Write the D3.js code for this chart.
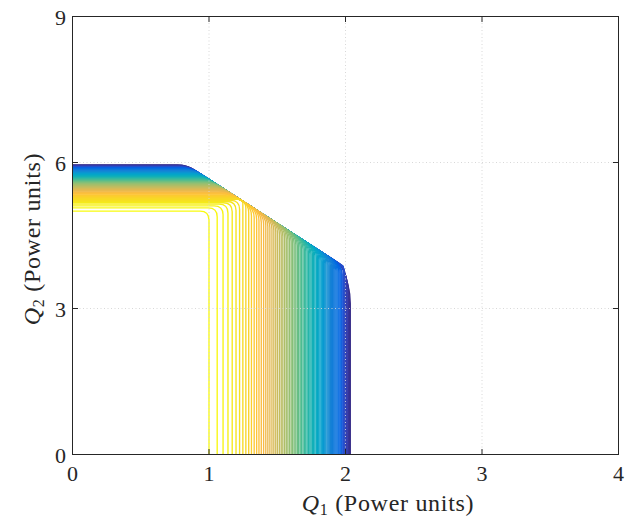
<!DOCTYPE html>
<html><head><meta charset="utf-8">
<script src="https://cdn.jsdelivr.net/npm/d3@7"></script>
<style>html,body{margin:0;padding:0;background:#fff;}svg{display:block;}</style>
</head><body>
<svg id="c" width="639" height="521"></svg>
<script>
// ---- data ----
// curves listed from innermost (yellow) to outermost (blue)
const qRight = [1.000,1.060,1.103,1.139,1.170,1.198,1.224,1.248,1.270,1.291,
  1.311,1.331,1.349,1.366,1.383,1.400,1.416,1.431,1.446,1.461,
  1.475,1.489,1.502,1.516,1.529,1.541,1.554,1.566,1.578,1.590,
  1.602,1.613,1.624,1.636,1.647,1.657,1.668,1.678,1.689,1.699,
  1.709,1.719,1.729,1.739,1.748,1.758,1.767,1.776,1.786,1.795,
  1.804,1.813,1.822,1.830,1.839,1.848,1.856,1.865,1.873,1.881,
  1.890,1.898,1.906,1.914,1.922,1.930,1.938,1.946,1.953,1.961,
  1.969,1.976,1.984,1.991,1.999,2.006,2.013,2.021,2.028,2.035];
const qTop = [5.000,5.067,5.110,5.144,5.173,5.199,5.223,5.245,5.265,5.284,
  5.303,5.320,5.336,5.352,5.368,5.382,5.397,5.411,5.424,5.437,
  5.450,5.462,5.475,5.486,5.498,5.510,5.521,5.532,5.542,5.553,
  5.563,5.574,5.584,5.594,5.603,5.613,5.623,5.632,5.641,5.650,
  5.659,5.668,5.677,5.686,5.694,5.703,5.711,5.720,5.728,5.736,
  5.744,5.752,5.760,5.768,5.775,5.783,5.791,5.798,5.806,5.813,
  5.820,5.828,5.835,5.842,5.849,5.856,5.863,5.870,5.877,5.884,
  5.891,5.898,5.904,5.911,5.918,5.924,5.931,5.937,5.944,5.950];
// limit lines a*Q1 + Q2 <= c shared by all curves
const limitA = [1.81, 11.0];
const limitC = [7.46, 25.68];
const xTicks = [0,1,2,3,4];
const yTicks = [0,3,6,9];
// parula colormap anchor colours (MATLAB)
const parulaStops = [[0.2081,0.1663,0.5292],[0.2123,0.2138,0.6270],[0.1959,0.2645,0.7279],[0.1253,0.3242,0.8303],
  [0.0117,0.3875,0.8820],[0.0165,0.4266,0.8786],[0.0498,0.4586,0.8641],[0.0723,0.4887,0.8467],
  [0.0793,0.5200,0.8312],[0.0641,0.5570,0.8240],[0.0343,0.5966,0.8199],[0.0239,0.6287,0.8038],
  [0.0228,0.6535,0.7768],[0.0384,0.6743,0.7436],[0.0843,0.6928,0.7062],[0.1453,0.7098,0.6646],
  [0.2178,0.7250,0.6193],[0.3022,0.7376,0.5712],[0.3953,0.7459,0.5244],[0.4871,0.7491,0.4840],
  [0.5709,0.7485,0.4494],[0.6473,0.7456,0.4188],[0.7184,0.7411,0.3905],[0.7858,0.7356,0.3633],
  [0.8507,0.7299,0.3360],[0.9139,0.7258,0.3063],[0.9739,0.7314,0.2666],[0.9990,0.7653,0.2164],
  [0.9880,0.8066,0.1794],[0.9697,0.8481,0.1475],[0.9589,0.8949,0.1132],[0.9661,0.9514,0.0755],
  [0.9763,0.9831,0.0538]];

// ---- layout ----
const svg = d3.select("#c");
const x = d3.scaleLinear().domain([0,4]).range([72.5,618.5]);
const y = d3.scaleLinear().domain([0,9]).range([454.5,16.5]);
const cmap = d3.piecewise(d3.interpolateRgb, parulaStops.map(c=>d3.rgb(c[0]*255,c[1]*255,c[2]*255)));

function clip(poly, a, c){ // keep a*x + y <= c
  const out=[]; const f=p=>a*p[0]+p[1]-c;
  for(let i=0;i<poly.length;i++){
    const P=poly[i], Q=poly[(i+1)%poly.length];
    const fp=f(P), fq=f(Q);
    if(fp<=0) out.push(P);
    if((fp<0&&fq>0)||(fp>0&&fq<0)){
      const t=fp/(fp-fq); out.push([P[0]+t*(Q[0]-P[0]), P[1]+t*(Q[1]-P[1])]);
    }
  }
  return out;
}
function roundedPath(pts, r){
  let d = `M${pts[0][0]},${pts[0][1]}`;
  for(let i=1;i<pts.length-1;i++){
    const A=pts[i-1],P=pts[i],B=pts[i+1];
    const la=Math.hypot(A[0]-P[0],A[1]-P[1]), lb=Math.hypot(B[0]-P[0],B[1]-P[1]);
    const dd=Math.min(r, la/2, lb/2);
    const p1=[P[0]+(A[0]-P[0])*dd/la, P[1]+(A[1]-P[1])*dd/la];
    const p2=[P[0]+(B[0]-P[0])*dd/lb, P[1]+(B[1]-P[1])*dd/lb];
    d += `L${p1[0]},${p1[1]}Q${P[0]},${P[1]} ${p2[0]},${p2[1]}`;
  }
  const L=pts[pts.length-1]; d+=`L${L[0]},${L[1]}`;
  return d;
}

const N = qRight.length;
const order = d3.range(N).reverse(); // outer (blue) drawn first
const curves = svg.append("g");
order.forEach((k, j) => {
  let poly = [[0,0],[0,qTop[k]],[qRight[k],qTop[k]],[qRight[k],0]];
  limitA.forEach((a,i)=>{ poly = clip(poly, a, limitC[i]); });
  const pts = poly.slice(1).map(p=>[x(p[0]), y(p[1])]);
  curves.append("path")
    .attr("d", roundedPath(pts, 9))
    .attr("fill","none")
    .attr("stroke", cmap(j/(N-1)))
    .attr("stroke-width", 1.35);
});

// grid (on top, light dotted)
const grid = svg.append("g").attr("stroke","#d4d4d4").attr("stroke-width",0.9).attr("stroke-dasharray","1,2.5");
xTicks.slice(1,-1).forEach(v=>grid.append("line").attr("x1",x(v)).attr("x2",x(v)).attr("y1",y(0)).attr("y2",y(9)));
yTicks.slice(1,-1).forEach(v=>grid.append("line").attr("x1",x(0)).attr("x2",x(4)).attr("y1",y(v)).attr("y2",y(v)));

// axes box with inward ticks
const ax = svg.append("g").attr("stroke","#262626").attr("stroke-width",1).attr("fill","none");
ax.append("rect").attr("x",x(0)).attr("y",y(9)).attr("width",x(4)-x(0)).attr("height",y(0)-y(9));
const tl=5.5;
xTicks.forEach(v=>{
  ax.append("line").attr("x1",x(v)).attr("x2",x(v)).attr("y1",y(0)).attr("y2",y(0)-tl);
  ax.append("line").attr("x1",x(v)).attr("x2",x(v)).attr("y1",y(9)).attr("y2",y(9)+tl);
});
yTicks.forEach(v=>{
  ax.append("line").attr("x1",x(0)).attr("x2",x(0)+tl).attr("y1",y(v)).attr("y2",y(v));
  ax.append("line").attr("x1",x(4)).attr("x2",x(4)-tl).attr("y1",y(v)).attr("y2",y(v));
});

const font = "'Liberation Serif', 'DejaVu Serif', serif";
const tg = svg.append("g").attr("font-family",font).attr("font-size",22).attr("fill","#262626");
xTicks.forEach(v=>tg.append("text").attr("x",x(v)).attr("y",481).attr("text-anchor","middle").text(v));
yTicks.forEach(v=>tg.append("text").attr("x",66).attr("y",y(v)+8).attr("text-anchor","end").text(v));

const xl = svg.append("text").attr("font-family",font).attr("font-size",24).attr("fill","#262626")
  .attr("letter-spacing",0.7).attr("x",388).attr("y",511).attr("text-anchor","middle");
xl.append("tspan").attr("font-style","italic").text("Q");
xl.append("tspan").attr("font-size",16).attr("dy",4).text("1");
xl.append("tspan").attr("dy",-4).text(" (Power units)");

const yl = svg.append("text").attr("font-family",font).attr("font-size",24).attr("fill","#262626")
  .attr("letter-spacing",0.7).attr("transform","translate(40,239) rotate(-90)").attr("text-anchor","middle");
yl.append("tspan").attr("font-style","italic").text("Q");
yl.append("tspan").attr("font-size",16).attr("dy",4).text("2");
yl.append("tspan").attr("dy",-4).text(" (Power units)");
</script>
</body></html>
